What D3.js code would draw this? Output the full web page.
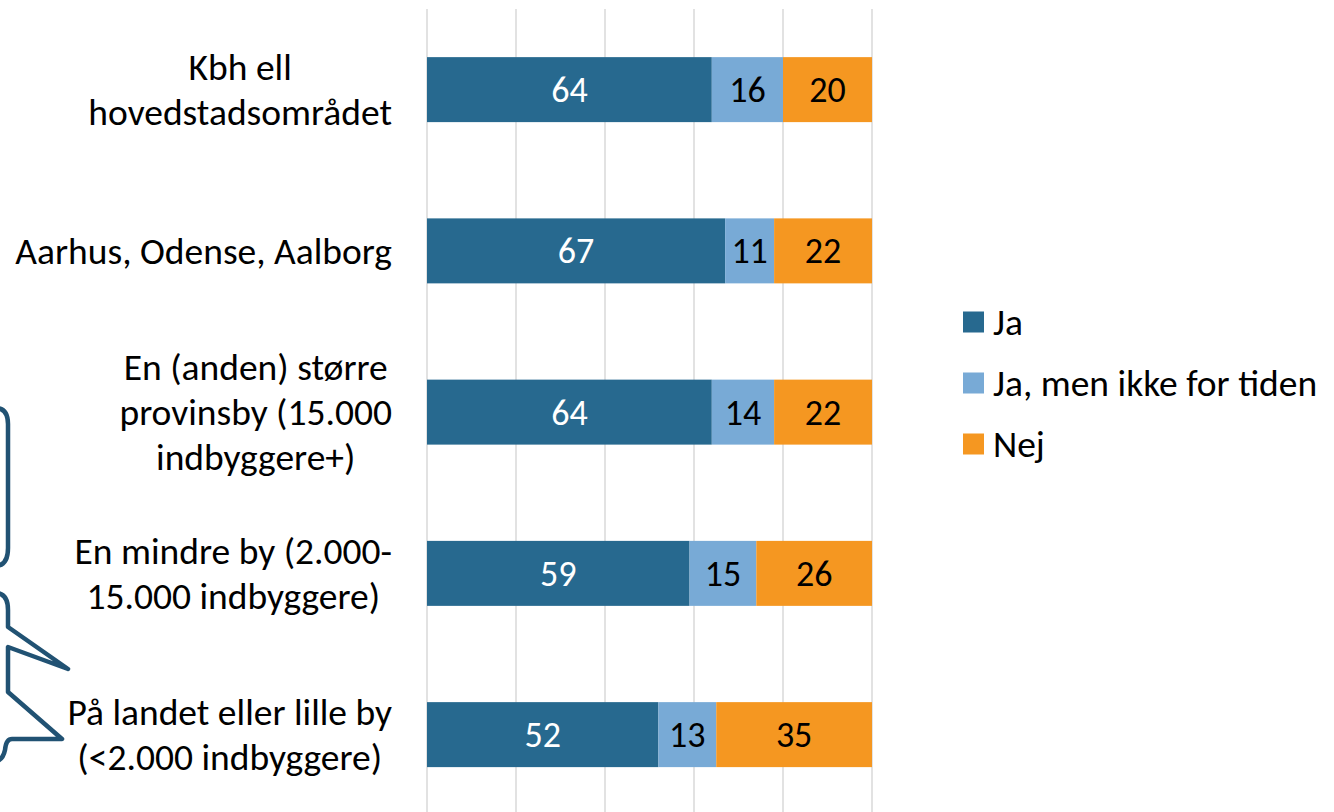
<!DOCTYPE html>
<html>
<head>
  <meta charset="UTF-8">
  <style>
    body {
        margin: 0;
        background: #fff;
        font-family: Carlito, Lato, "Open Sans", sans-serif;
    }
    .cat { font-size: 37.5px; fill: #000; }
    .val { font-size: 36px; }
    .leg { font-size: 37.5px; fill: #000; }
  </style>
</head>
<body>
<svg width="1334" height="812"></svg>

<script src="https://d3js.org/d3.v7.min.js"></script>
<script>

// categories (multi-line labels as in the original)
const categories = [
  ["Kbh ell", "hovedstadsområdet"],
  ["Aarhus, Odense, Aalborg"],
  ["En (anden) større", "provinsby (15.000", "indbyggere+)"],
  ["En mindre by (2.000-", "15.000 indbyggere)"],
  ["På landet eller lille by", "(<2.000 indbyggere)"]
];
const seriesNames = ["Ja", "Ja, men ikke for tiden", "Nej"];
const ja       = [64, 67, 64, 59, 52];
const jaMen    = [16, 11, 14, 15, 13];
const nej      = [20, 22, 22, 26, 35];
const xTicks   = [0, 20, 40, 60, 80, 100];

const colors = ["#27698f", "#78aad6", "#f59721"];
const labelColors = ["#fff", "#000", "#000"];

const svg = d3.select("svg");

// decorative speech-bubble outline cut off at left edge
svg.append("g")
  .attr("fill", "none")
  .attr("stroke", "#215273")
  .attr("stroke-width", 4.5)
  .attr("stroke-linejoin", "round")
  .attr("stroke-linecap", "round")
  .selectAll("path")
  .data([
    "M-5,408 Q8,408 8,424 L8,548 Q8,566 -5,566",
    "M-5,593 Q8,593 8,610 L8,627 L68,669 L8,647 L8,692 L62,739 L12,739 Q6,739 5,750 Q3,760 -5,762"
  ])
  .join("path")
  .attr("d", d => d);

const x = d3.scaleLinear().domain([0, 100]).range([427, 872]);
const y = d3.scaleBand()
  .domain(d3.range(categories.length))
  .range([9, 815.25])
  .paddingInner(0.597)
  .paddingOuter(0.2985);

// gridlines
svg.append("g")
  .selectAll("line")
  .data(xTicks)
  .join("line")
  .attr("x1", d => x(d)).attr("x2", d => x(d))
  .attr("y1", 9).attr("y2", 812)
  .attr("stroke", "#d9d9d9")
  .attr("stroke-width", 1.5);

// stack
const table = categories.map((c, i) => ({i: i, s0: ja[i], s1: jaMen[i], s2: nej[i]}));
const stack = d3.stack().keys(["s0", "s1", "s2"])(table);

const layers = svg.append("g")
  .selectAll("g")
  .data(stack)
  .join("g")
  .attr("fill", (d, k) => colors[k]);

layers.selectAll("rect")
  .data(d => d)
  .join("rect")
  .attr("x", d => x(d[0]))
  .attr("y", d => y(d.data.i))
  .attr("width", d => x(d[1]) - x(d[0]))
  .attr("height", y.bandwidth());

// value labels
svg.append("g")
  .selectAll("g")
  .data(stack)
  .join("g")
  .attr("fill", (d, k) => labelColors[k])
  .selectAll("text")
  .data(d => d)
  .join("text")
  .attr("class", "val")
  .attr("x", d => (x(d[0]) + x(d[1])) / 2)
  .attr("y", d => y(d.data.i) + y.bandwidth() / 2)
  .attr("dy", "0.35em")
  .attr("text-anchor", "middle")
  .text(d => d[1] - d[0]);

// category labels: block centred, right edge at 392
const lineH = 45;
const catG = svg.append("g");
categories.forEach((lines, i) => {
  const t = catG.append("text")
    .attr("class", "cat")
    .attr("text-anchor", "middle");
  const cy = y(i) + y.bandwidth() / 2;
  lines.forEach((ln, j) => {
    t.append("tspan")
      .attr("y", cy + (j - (lines.length - 1) / 2) * lineH)
      .attr("dy", "0.35em")
      .text(ln);
  });
  let maxW = 0;
  t.selectAll("tspan").each(function() {
    maxW = Math.max(maxW, this.getComputedTextLength());
  });
  t.selectAll("tspan").attr("x", 392 - maxW / 2);
});

// legend
const leg = svg.append("g")
  .selectAll("g")
  .data(seriesNames)
  .join("g")
  .attr("transform", (d, k) => "translate(963," + (322 + k * 61) + ")");

leg.append("rect")
  .attr("x", 0).attr("y", -10.5)
  .attr("width", 21).attr("height", 21)
  .attr("fill", (d, k) => colors[k]);

leg.append("text")
  .attr("class", "leg")
  .attr("x", 30)
  .attr("dy", "0.35em")
  .text(d => d);

</script>
</body>
</html>
